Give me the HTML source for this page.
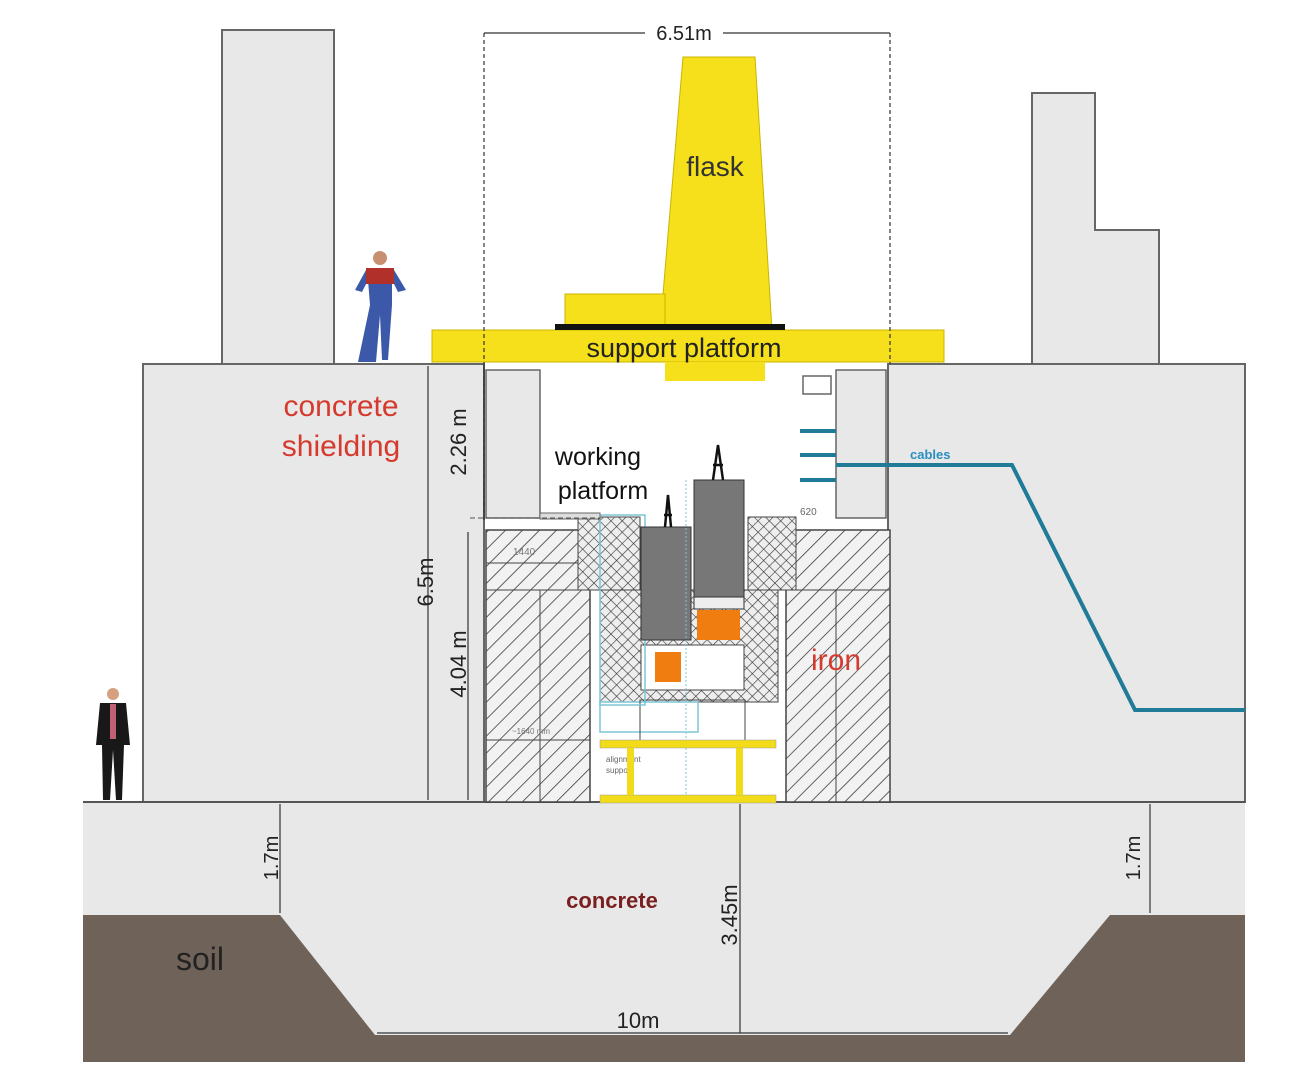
<!DOCTYPE html>
<html><head><meta charset="utf-8"><style>html,body{margin:0;padding:0;background:#fff}svg{display:block}</style></head>
<body>
<svg width="1298" height="1080" viewBox="0 0 1298 1080" xmlns="http://www.w3.org/2000/svg" font-family="Liberation Sans, sans-serif">
<defs>
<pattern id="h" width="12" height="12" patternUnits="userSpaceOnUse" patternTransform="rotate(45)">
<rect width="12" height="12" fill="#f2f2f2"/><line x1="0" y1="0" x2="0" y2="12" stroke="#333" stroke-width="1.5"/>
</pattern>
<pattern id="x" width="8" height="8" patternUnits="userSpaceOnUse" patternTransform="rotate(45)">
<rect width="8" height="8" fill="#eee"/><line x1="0" y1="0" x2="0" y2="8" stroke="#333" stroke-width="1.2"/><line x1="0" y1="0" x2="8" y2="0" stroke="#333" stroke-width="1.2"/>
</pattern>
</defs>
<!-- towers -->
<rect x="222" y="30" width="112" height="334" fill="#e8e8e8" stroke="#666" stroke-width="2"/>
<polygon points="1032,93 1095,93 1095,230 1159,230 1159,364 1032,364" fill="#e8e8e8" stroke="#666" stroke-width="2"/>
<!-- main shielding -->
<rect x="143" y="364" width="341" height="438" fill="#e8e8e8" stroke="#666" stroke-width="2"/>
<rect x="888" y="364" width="357" height="438" fill="#e8e8e8" stroke="#666" stroke-width="2"/>
<rect x="486" y="370" width="54" height="148" fill="#e8e8e8" stroke="#666" stroke-width="1.5"/>
<rect x="836" y="370" width="50" height="148" fill="#e8e8e8" stroke="#666" stroke-width="1.5"/>
<rect x="803" y="376" width="28" height="18" fill="#fff" stroke="#666" stroke-width="1.5"/>
<!-- ground slab -->
<rect x="83" y="802" width="1162" height="260" fill="#e8e8e8"/>
<line x1="83" y1="802" x2="1245" y2="802" stroke="#555" stroke-width="2"/>
<polygon points="83,915 280,915 375,1035 1010,1035 1110,915 1245,915 1245,1062 83,1062" fill="#6e6259"/>
<!-- iron blocks -->
<rect x="486" y="530" width="104" height="272" fill="url(#h)" stroke="#444" stroke-width="1.5"/>
<line x1="540" y1="590" x2="540" y2="802" stroke="#444"/><line x1="486" y1="563" x2="590" y2="563" stroke="#444"/><line x1="486" y1="590" x2="590" y2="590" stroke="#444"/><line x1="486" y1="740" x2="590" y2="740" stroke="#444"/>
<rect x="786" y="530" width="104" height="272" fill="url(#h)" stroke="#444" stroke-width="1.5"/>
<line x1="836" y1="590" x2="836" y2="802" stroke="#444"/><line x1="786" y1="590" x2="890" y2="590" stroke="#444"/>
<rect x="578" y="517" width="62" height="73" fill="url(#x)" stroke="#444"/>
<rect x="748" y="517" width="48" height="73" fill="url(#x)" stroke="#444"/>
<rect x="600" y="590" width="178" height="112" fill="url(#x)" stroke="#444"/>
<rect x="641" y="645" width="103" height="45" fill="#fff" stroke="#444"/>
<rect x="600" y="702" width="98" height="30" fill="none" stroke="#7cc5d6" stroke-width="1.5"/>
<rect x="640" y="700" width="105" height="42" fill="none" stroke="#444"/>
<rect x="600" y="515" width="45" height="190" fill="none" stroke="#7cc5d6" stroke-width="1.5"/>
<!-- working platform -->
<rect x="540" y="513" width="60" height="6" fill="#ddd" stroke="#666"/>
<line x1="470" y1="518" x2="600" y2="518" stroke="#555" stroke-dasharray="5,3"/>
<text x="800" y="515" font-size="10" fill="#666">620</text>
<text x="513" y="555" font-size="10" fill="#777">1440</text>
<text x="512" y="734" font-size="8" fill="#777">~1640 mm</text>
<text x="606" y="762" font-size="8" fill="#666">alignment</text><text x="606" y="773" font-size="8" fill="#666">support</text>
<!-- grey flasks -->
<rect x="641" y="527" width="50" height="113" fill="#777" stroke="#333"/>
<rect x="694" y="480" width="50" height="117" fill="#777" stroke="#333"/>
<rect x="694" y="597" width="50" height="12" fill="#eee" stroke="#333"/>
<rect x="697" y="610" width="43" height="30" fill="#f07d10"/>
<rect x="655" y="652" width="26" height="30" fill="#f07d10"/>
<path d="M665 527 L668 495 L671 527 M664 515 L672 515 M713 480 L718 445 L723 480 M713 465 L723 465" stroke="#111" stroke-width="2.5" fill="none"/>
<line x1="686" y1="480" x2="686" y2="802" stroke="#7cc5d6" stroke-dasharray="2,2"/>
<!-- alignment support -->
<rect x="600" y="740" width="176" height="8" fill="#f2dc1a" stroke="#999" stroke-width="0.5"/>
<rect x="600" y="795" width="176" height="8" fill="#f2dc1a" stroke="#999" stroke-width="0.5"/>
<rect x="627" y="748" width="7" height="47" fill="#f2dc1a"/><rect x="736" y="748" width="7" height="47" fill="#f2dc1a"/>
<!-- yellow flask -->
<polygon points="683,57 755,57 772,330 660,330" fill="#f6e01c" stroke="#c8b400"/>
<rect x="565" y="294" width="100" height="33" fill="#f6e01c" stroke="#c8b400"/>
<rect x="432" y="330" width="512" height="32" fill="#f6e01c" stroke="#c8b400"/>
<rect x="555" y="324" width="230" height="6" fill="#111"/>
<rect x="665" y="362" width="100" height="19" fill="#f6e01c"/>
<!-- cables -->
<g stroke="#1f7b97" stroke-width="4" fill="none">
<line x1="800" y1="431" x2="836" y2="431"/><line x1="800" y1="455" x2="836" y2="455"/><line x1="800" y1="480" x2="836" y2="480"/>
<polyline points="836,465 1012,465 1135,710 1245,710"/>
</g>
<text x="910" y="459" font-size="13" font-weight="bold" fill="#2a8fc0">cables</text>
<!-- dimensions -->
<g stroke="#333" stroke-width="1.2" fill="none">
<line x1="484" y1="33" x2="890" y2="33"/>
<line x1="484" y1="33" x2="484" y2="520" stroke-dasharray="4,3"/>
<line x1="890" y1="33" x2="890" y2="364" stroke-dasharray="4,3"/>
<line x1="428" y1="366" x2="428" y2="800"/>
<line x1="484" y1="366" x2="484" y2="518"/>
<line x1="468" y1="532" x2="468" y2="800"/>
<line x1="280" y1="804" x2="280" y2="913"/>
<line x1="1150" y1="804" x2="1150" y2="913"/>
<line x1="740" y1="804" x2="740" y2="1033"/>
<line x1="377" y1="1033" x2="1008" y2="1033"/>
</g>
<rect x="645" y="24" width="78" height="18" fill="#fff"/>
<text x="684" y="40" font-size="20" text-anchor="middle" fill="#222">6.51m</text>
<!-- people -->
<g><circle cx="380" cy="258" r="7" fill="#c89070"/><path d="M366 270 L394 270 L406 290 L398 292 L392 280 L392 305 L388 360 L382 360 L380 315 L376 362 L358 362 L370 305 L368 280 L362 292 L355 290 Z" fill="#3c58a8"/><rect x="366" y="268" width="28" height="16" fill="#b2302a"/></g>
<g><circle cx="113" cy="694" r="6" fill="#d4a080"/><path d="M100 703 L126 703 L130 745 L124 745 L122 800 L116 800 L113 750 L110 800 L103 800 L102 745 L96 745 Z" fill="#181818"/><rect x="110" y="704" width="6" height="35" fill="#c06070"/></g>
<!-- labels -->
<text x="341" y="416" font-size="30" fill="#d63a2e" text-anchor="middle">concrete</text>
<text x="341" y="456" font-size="30" fill="#d63a2e" text-anchor="middle">shielding</text>
<text x="715" y="176" font-size="28" fill="#333" text-anchor="middle">flask</text>
<text x="684" y="357" font-size="27" fill="#222" text-anchor="middle">support platform</text>
<text x="598" y="465" font-size="25" fill="#111" text-anchor="middle">working</text>
<text x="603" y="499" font-size="25" fill="#111" text-anchor="middle">platform</text>
<text x="836" y="670" font-size="30" fill="#d63a2e" text-anchor="middle">iron</text>
<text x="612" y="908" font-size="22" font-weight="bold" fill="#7a2020" text-anchor="middle">concrete</text>
<text x="200" y="970" font-size="32" fill="#222" text-anchor="middle">soil</text>
<text x="638" y="1028" font-size="22" fill="#222" text-anchor="middle">10m</text>
<text transform="translate(433,582) rotate(-90)" font-size="22" fill="#222" text-anchor="middle">6.5m</text>
<text transform="translate(466,442) rotate(-90)" font-size="22" fill="#222" text-anchor="middle">2.26 m</text>
<text transform="translate(466,664) rotate(-90)" font-size="22" fill="#222" text-anchor="middle">4.04 m</text>
<text transform="translate(278,858) rotate(-90)" font-size="20" fill="#222" text-anchor="middle">1.7m</text>
<text transform="translate(1140,858) rotate(-90)" font-size="20" fill="#222" text-anchor="middle">1.7m</text>
<text transform="translate(737,915) rotate(-90)" font-size="22" fill="#222" text-anchor="middle">3.45m</text>
</svg>
</body></html>
